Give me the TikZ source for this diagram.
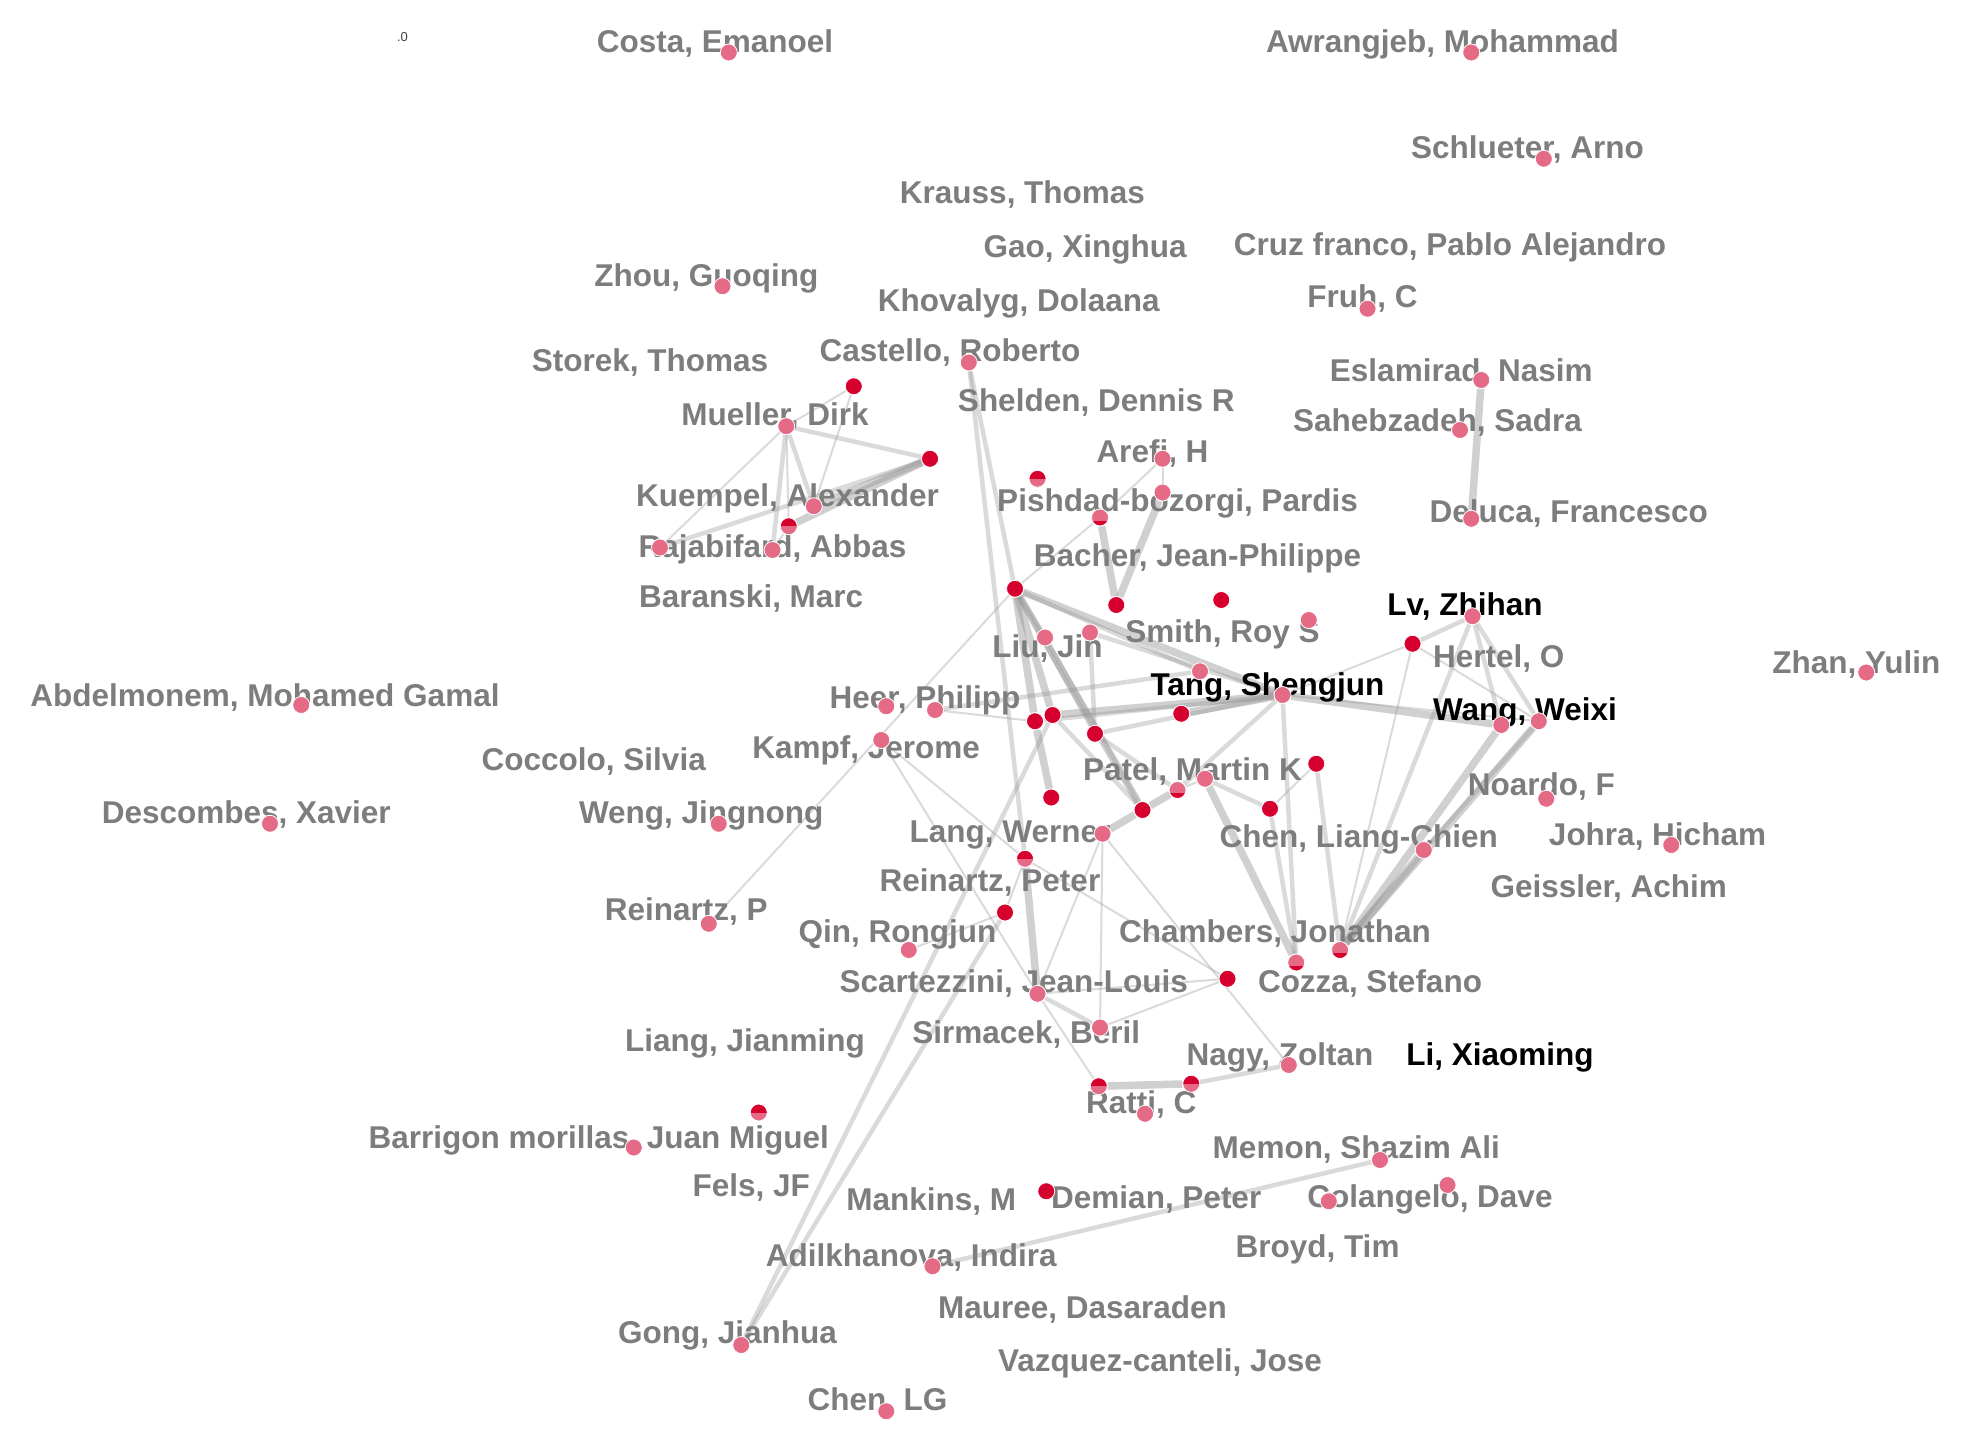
\documentclass[tikz,border=0pt]{standalone}
\usepackage{fontspec}
\setmainfont{Liberation Sans}
\definecolor{dred}{RGB}{214,0,46}
\definecolor{dpink}{RGB}{229,106,134}
\definecolor{lgray}{RGB}{125,125,125}
\definecolor{egray}{RGB}{150,150,150}
\pgfdeclarelayer{edgelayer}
\pgfdeclarelayer{labellayer}
\pgfsetlayers{edgelayer,labellayer,main}
\begin{document}
\begin{tikzpicture}[x=1.25pt,y=-1.25pt,
 dot/.style={circle,inner sep=0pt,minimum size=17pt,draw=white,line width=0.8pt},
 rd/.style={dot,fill=dred},
 pk/.style={dot,fill=dpink},
 rp/.style={rd,path picture={\fill[dpink] (path picture bounding box.west) rectangle (path picture bounding box.south east);}},
 pr/.style={pk,path picture={\fill[dred] ([yshift=-3pt]path picture bounding box.west) rectangle (path picture bounding box.south east);}},
 lab/.style={anchor=base,inner sep=0pt,text=lgray,font=\fontsize{31.5}{36}\selectfont\bfseries},
 blab/.style={lab,text=black},
 e1/.style={draw=egray,line width=2pt,opacity=0.35},
 e2/.style={draw=egray,line width=4.5pt,opacity=0.35},
 e3/.style={draw=egray,line width=7.5pt,opacity=0.45},
]
\useasboundingbox (0,0) rectangle (1568.8,1160);
% ---------- dots ----------
\node[pk] (Costa) at (583,42) {};
\node[pk] (Awr) at (1177,42) {};
\node[pk] (Sch) at (1235,127) {};
\node[pk] (Zhou) at (578,229) {};
\node[pk] (Fruh) at (1094,247) {};
\node[pk] (Cas) at (775,290) {};
\node[pk] (Esl) at (1185,304) {};
\node[pk] (Mu) at (629,341) {};
\node[pk] (Sah) at (1168,344) {};
\node[rd] (a1) at (683,309) {};
\node[pk] (Ar) at (930,367) {};
\node[rd] (a2) at (744,367) {};
\node[rp] (b0) at (830,383) {};
\node[pk] (Ku) at (651,405) {};
\node[pk] (P1) at (930,394) {};
\node[pr] (P2) at (880,414) {};
\node[rp] (a3) at (631,421) {};
\node[pk] (Del) at (1177,415) {};
\node[pk] (Rj1) at (528,438) {};
\node[pk] (Rj2) at (618,440) {};
\node[rd] (B1) at (812,471) {};
\node[rd] (B2) at (893,484) {};
\node[rd] (B3) at (977,480) {};
\node[pk] (Lv) at (1178,493) {};
\node[pk] (SmD) at (1047,496) {};
\node[pk] (LJ1) at (836,510) {};
\node[pk] (LJ2) at (872,506) {};
\node[rd] (Lvr) at (1130,515) {};
\node[pk] (Zhan) at (1493,538) {};
\node[pk] (Tp) at (960,537) {};
\node[pk] (Tang) at (1026,556) {};
\node[pk] (Abd) at (241,564) {};
\node[pk] (He1) at (709,565) {};
\node[pk] (He2) at (748,568) {};
\node[rd] (C1) at (828,577) {};
\node[rd] (C2) at (842,572) {};
\node[rd] (C3) at (945,571) {};
\node[rd] (C4) at (876,587) {};
\node[pk] (W1) at (1201,580) {};
\node[pk] (W2) at (1231,577) {};
\node[pk] (Ka) at (705,592) {};
\node[rd] (Pr) at (1053,611) {};
\node[pk] (Pa) at (964,623) {};
\node[pr] (PR) at (942,632) {};
\node[pk] (No) at (1237,639) {};
\node[rd] (D1) at (841,638) {};
\node[rd] (D2) at (914,648) {};
\node[rd] (D3) at (1016,647) {};
\node[pk] (Des) at (216,659) {};
\node[pk] (We) at (575,659) {};
\node[pk] (La) at (882,667) {};
\node[pk] (CLC) at (1139,680) {};
\node[pk] (Jo) at (1337,676) {};
\node[rp] (RP) at (820,687) {};
\node[rd] (E) at (804,730) {};
\node[pk] (RpP) at (567,739) {};
\node[pk] (Qi) at (727,760) {};
\node[pr] (Ch1) at (1072,760) {};
\node[pr] (Ch2) at (1037,770) {};
\node[rd] (F) at (982,783) {};
\node[pk] (Sc) at (830,795) {};
\node[pk] (Si) at (880,822) {};
\node[pk] (Na) at (1031,852) {};
\node[rp] (G2) at (953,867) {};
\node[rp] (G1) at (879,869) {};
\node[pk] (Ra) at (916,891) {};
\node[rp] (H) at (607,890) {};
\node[pk] (Ba) at (507,918) {};
\node[pk] (Me) at (1104,928) {};
\node[pk] (Co2) at (1158,948) {};
\node[rd] (Mk) at (837,953) {};
\node[pk] (Co1) at (1063,961) {};
\node[pk] (Ad) at (746,1013) {};
\node[pk] (Go) at (593,1076) {};
\node[pk] (CLG) at (709,1129) {};
% ---------- edges ----------
\begin{pgfonlayer}{edgelayer}
\draw[e2] (Mu) -- (a2);
\draw[e1] (Mu) -- (a1);
\draw[e2] (Mu) -- (Ku);
\draw[e2] (Mu) -- (Rj2);
\draw[e1] (Mu) -- (Rj1);
\draw[e1] (Mu) -- (a3);
\draw[e1] (a1) -- (Ku);
\draw[e3] (a2) -- (Ku);
\draw[e3] (a2) -- (a3);
\draw[e2] (a2) -- (Rj1);
\draw[e1] (a3) -- (Rj2);
\draw[e3] (Esl) -- (Del);
\draw[e1] (Ar) -- (P2);
\draw[e1] (Ar) -- (P1);
\draw[e3] (P1) -- (B2);
\draw[e3] (P2) -- (B2);
\draw[e1] (P2) -- (B1);
\draw[e2] (Cas) -- (B1);
\draw[e2] (Cas) -- (RP);
\draw[e3] (RP) -- (Sc);
\draw[e3] (B1) -- (Tang);
\draw[e2] (B1) -- (Tp);
\draw[e3] (B1) -- (C1);
\draw[e3] (B1) -- (C2);
\draw[e2] (B1) -- (C4);
\draw[e2] (B1) -- (LJ1);
\draw[e3] (B1) -- (D2);
\draw[e1] (RpP) -- (B1);
\draw[e2] (He2) -- (Tp);
\draw[e2] (LJ2) -- (Tang);
\draw[e2] (LJ2) -- (C4);
\draw[e2] (LJ1) -- (D2);
\draw[e2] (C2) -- (D2);
\draw[e3] (C2) -- (Tang);
\draw[e2] (C1) -- (Tang);
\draw[e3] (C3) -- (Tang);
\draw[e2] (C4) -- (Tang);
\draw[e3] (C1) -- (D1);
\draw[e2] (C4) -- (PR);
\draw[e1] (Tang) -- (Lvr);
\draw[e2] (Lvr) -- (Lv);
\draw[e3] (Tang) -- (W1);
\draw[e1] (Tang) -- (W2);
\draw[e2] (Lv) -- (W1);
\draw[e2] (Lv) -- (W2);
\draw[e1] (Lvr) -- (W2);
\draw[e1] (Lvr) -- (Ch1);
\draw[e2] (Lv) -- (Ch1);
\draw[e3] (W1) -- (Ch1);
\draw[e3] (W2) -- (Ch1);
\draw[e2] (W2) -- (CLC);
\draw[e3] (CLC) -- (Ch1);
\draw[e2] (Tang) -- (PR);
\draw[e2] (Tang) -- (Ch2);
\draw[e3] (Pa) -- (Ch2);
\draw[e2] (Pa) -- (D3);
\draw[e2] (D3) -- (Ch2);
\draw[e1] (Pr) -- (D3);
\draw[e2] (Pr) -- (Ch1);
\draw[e3] (PR) -- (D2);
\draw[e3] (D2) -- (La);
\draw[e1] (Pa) -- (PR);
\draw[e1] (Ka) -- (RP);
\draw[e1] (Ka) -- (Sc);
\draw[e1] (La) -- (Sc);
\draw[e1] (La) -- (Si);
\draw[e1] (La) -- (Na);
\draw[e1] (RP) -- (F);
\draw[e2] (Sc) -- (Si);
\draw[e1] (Sc) -- (F);
\draw[e1] (Si) -- (F);
\draw[e1] (Sc) -- (G1);
\draw[e3] (G1) -- (G2);
\draw[e2] (G2) -- (Na);
\draw[e2] (Go) -- (E);
\draw[e2] (Go) -- (C2);
\draw[e1] (Qi) -- (E);
\draw[e1] (RP) -- (E);
\draw[e2] (Ad) -- (Me);
\draw[e1] (He2) -- (C1);
\end{pgfonlayer}
% ---------- labels ----------
\begin{pgfonlayer}{labellayer}
\node[anchor=base,inner sep=0pt,text=darkgray,font=\fontsize{13}{14}\selectfont] (zero) at (322,33) {.0};
\node[lab] (lCosta) at (572,42) {Costa, Emanoel};
\node[lab] (lAwr) at (1154,42) {Awrangjeb, Mohammad};
\node[lab] (lSch) at (1222,127) {Schlueter, Arno};
\node[lab] (lKra) at (818,163) {Krauss, Thomas};
\node[lab] (lGao) at (868,206) {Gao, Xinghua};
\node[lab] (lCruz) at (1160,204) {Cruz franco, Pablo Alejandro};
\node[lab] (lZhou) at (565,229) {Zhou, Guoqing};
\node[lab] (lKho) at (815,249) {Khovalyg, Dolaana};
\node[lab] (lFruh) at (1090,246) {Fruh, C};
\node[lab] (lSto) at (520,297) {Storek, Thomas};
\node[lab] (lCas) at (760,289) {Castello, Roberto};
\node[lab] (lEsl) at (1169,305) {Eslamirad, Nasim};
\node[lab] (lMu) at (620,340) {Mueller, Dirk};
\node[lab] (lShe) at (877,329) {Shelden, Dennis R};
\node[lab] (lSah) at (1150,345) {Sahebzadeh, Sadra};
\node[lab] (lAr) at (922,370) {Arefi, H};
\node[lab] (lKu) at (630,405) {Kuempel, Alexander};
\node[lab] (lPis) at (942,409) {Pishdad-bozorgi, Pardis};
\node[lab] (lRaj) at (618,446) {Rajabifard, Abbas};
\node[lab] (lDel) at (1255,418) {Deluca, Francesco};
\node[lab] (lBac) at (958,453) {Bacher, Jean-Philippe};
\node[lab] (lBar) at (601,486) {Baranski, Marc};
\node[blab] (lLv) at (1172,492) {Lv, Zhihan};
\node[lab] (lSmi) at (978,514) {Smith, Roy S};
\node[lab] (lLiu) at (838,526) {Liu, Jin};
\node[lab] (lHer) at (1199,534) {Hertel, O};
\node[lab] (lZhan) at (1485,539) {Zhan, Yulin};
\node[blab] (lTang) at (1014,556) {Tang, Shengjun};
\node[lab] (lAbd) at (212,565) {Abdelmonem, Mohamed Gamal};
\node[lab] (lHeer) at (740,567) {Heer, Philipp};
\node[blab] (lWang) at (1220,576) {Wang, Weixi};
\node[lab] (lKa) at (693,607) {Kampf, Jerome};
\node[lab] (lCoc) at (475,616) {Coccolo, Silvia};
\node[lab] (lPa) at (954,624) {Patel, Martin K};
\node[lab] (lNo) at (1233,636) {Noardo, F};
\node[lab] (lDes) at (197,659) {Descombes, Xavier};
\node[lab] (lWe) at (561,659) {Weng, Jingnong};
\node[lab] (lLa) at (808,674) {Lang, Werner};
\node[lab] (lCLC) at (1087,678) {Chen, Liang-Chien};
\node[lab] (lJo) at (1326,676) {Johra, Hicham};
\node[lab] (lRP) at (792,713) {Reinartz, Peter};
\node[lab] (lGe) at (1287,718) {Geissler, Achim};
\node[lab] (lRpP) at (549,736) {Reinartz, P};
\node[lab] (lQi) at (718,754) {Qin, Rongjun};
\node[lab] (lCh) at (1020,754) {Chambers, Jonathan};
\node[lab] (lSc) at (811,794) {Scartezzini, Jean-Louis};
\node[lab] (lCoz) at (1096,794) {Cozza, Stefano};
\node[lab] (lLia) at (596,841) {Liang, Jianming};
\node[lab] (lSi) at (821,835) {Sirmacek, Beril};
\node[lab] (lNa) at (1024,852) {Nagy, Zoltan};
\node[blab] (lLi) at (1200,852) {Li, Xiaoming};
\node[lab] (lRa) at (913,891) {Ratti, C};
\node[lab] (lBa) at (479,919) {Barrigon morillas, Juan Miguel};
\node[lab] (lMe) at (1085,927) {Memon, Shazim Ali};
\node[lab] (lFe) at (601,957) {Fels, JF};
\node[lab] (lMk) at (745,968) {Mankins, M};
\node[lab] (lDem) at (925,967) {Demian, Peter};
\node[lab] (lCol) at (1144,966) {Colangelo, Dave};
\node[lab] (lBro) at (1054,1006) {Broyd, Tim};
\node[lab] (lAd) at (729,1013) {Adilkhanova, Indira};
\node[lab] (lMau) at (866,1055) {Mauree, Dasaraden};
\node[lab] (lGo) at (582,1075) {Gong, Jianhua};
\node[lab] (lVaz) at (928,1097) {Vazquez-canteli, Jose};
\node[lab] (lCLG) at (702,1128) {Chen, LG};
\end{pgfonlayer}
\end{tikzpicture}
\end{document}
